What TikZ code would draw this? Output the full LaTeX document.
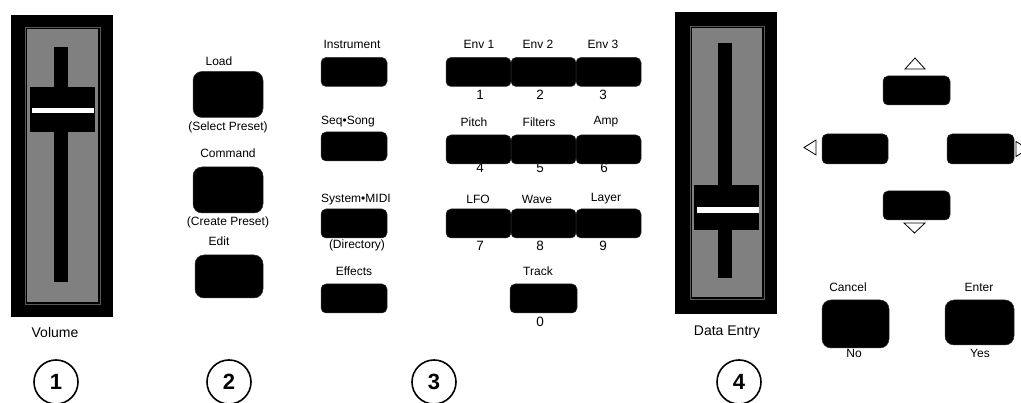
\documentclass[tikz,border=0pt]{standalone}
\usepackage{fontspec}
\setmainfont{Liberation Sans}
\newcommand{\panelfont}{\fontsize{12}{13}\selectfont}
\newcommand{\bigpanelfont}{\fontsize{14}{15}\selectfont}
\newcommand{\digitfont}{\fontsize{13.5}{14}\selectfont}

\begin{document}
\begin{tikzpicture}[x=1pt,y=-1pt]
        \tikzstyle{every node}=[font=\panelfont,inner sep=0pt]
        \tikzstyle{pad}=[rounded corners=5pt,fill=black,draw=black!80,line width=0.5pt,minimum width=66pt,minimum height=29pt]
        \tikzstyle{bigpad}=[pad,rounded corners=9pt,minimum width=70pt,minimum height=46pt]
        \tikzstyle{digit}=[font=\digitfont]
        \tikzstyle{section}=[circle,draw,line width=1.6pt,minimum size=44pt,font=\fontsize{22}{22}\selectfont\bfseries]
        \tikzstyle{arrowmark}=[draw,line width=0.8pt,line join=miter]
        \useasboundingbox (0,0) rectangle (1021,403);

        %%% Volume slider
        \fill[black] (11,15) rectangle (113,317);
        \fill[gray] (27,29) rectangle (98,302);
        \draw[black!65,line width=0.6pt] (25,27) rectangle (100,304);
        \fill[black] (54,47) rectangle (68,282);
        \fill[black] (30,87) rectangle (95,132);
        \fill[white] (32,108) rectangle (94,113);
        \node[font=\bigpanelfont] (volume) at (55,332) {Volume};

        %%% Preset buttons
        \node (loadtxt) at (219,61) {Load};
        \node (selecttxt) at (228,127) {(Select Preset)};
        \node (commandtxt) at (228,153) {Command};
        \node (createtxt) at (228,222) {(Create Preset)};
        \node (edittxt) at (219,241) {Edit};
        \node[bigpad] (load) at (228,94.5) {};
        \node[bigpad] (command) at (228,190) {};
        \node[bigpad,minimum width=68pt,minimum height=43pt] (edit) at (229,276.5) {};

        %%% Mode buttons
        \node (instrtxt) at (352,44) {Instrument};
        \node (seqtxt) at (348,122) {Seq\textbullet Song};
        \node (systxt) at (356,200) {System\textbullet MIDI};
        \node (dirtxt) at (357,245) {(Directory)};
        \node (effectstxt) at (354,271) {Effects};
        \node[pad] (instrument) at (354,72) {};
        \node[pad] (seqsong) at (354,146.5) {};
        \node[pad] (sysmidi) at (354,223.5) {};
        \node[pad] (effects) at (354,298.5) {};

        %%% Keypad
        \node (env1txt) at (479,44) {Env 1};
        \node (env2txt) at (538,44) {Env 2};
        \node (env3txt) at (603,44) {Env 3};
        \node[digit] (n1) at (480,95) {1};
        \node[digit] (n2) at (540,95) {2};
        \node[digit] (n3) at (603,95) {3};
        \node (pitchtxt) at (474,122) {Pitch};
        \node (filterstxt) at (539,122) {Filters};
        \node (amptxt) at (606,122) {Amp};
        \node[digit] (n4) at (480,168) {4};
        \node[digit] (n5) at (540,168) {5};
        \node[digit] (n6) at (604,168) {6};
        \node (lfotxt) at (478,199) {LFO};
        \node (wavetxt) at (537,199) {Wave};
        \node (layertxt) at (606,199) {Layer};
        \node[digit] (n7) at (480,246) {7};
        \node[digit] (n8) at (540,246) {8};
        \node[digit] (n9) at (603,246) {9};
        \node (tracktxt) at (538,271) {Track};
        \node[digit] (n0) at (540,322) {0};
        \node[pad,minimum width=65pt] (env1) at (478.5,72) {};
        \node[pad,minimum width=65pt] (env2) at (543.5,72) {};
        \node[pad,minimum width=65pt] (env3) at (608.5,72) {};
        \node[pad,minimum width=65pt] (pitch) at (478.5,149.5) {};
        \node[pad,minimum width=65pt] (filters) at (543.5,149.5) {};
        \node[pad,minimum width=65pt] (amp) at (608.5,149.5) {};
        \node[pad,minimum width=65pt] (lfo) at (478.5,223.5) {};
        \node[pad,minimum width=65pt] (wave) at (543.5,223.5) {};
        \node[pad,minimum width=65pt] (layer) at (608.5,223.5) {};
        \node[pad,minimum width=67pt] (track) at (543.5,298.5) {};

        %%% Data Entry slider
        \fill[black] (675,12) rectangle (777,314);
        \fill[gray] (692,28) rectangle (762,297);
        \draw[black!65,line width=0.6pt] (690,26) rectangle (764,299);
        \fill[black] (718,43) rectangle (732,278);
        \fill[black] (694,185) rectangle (759,230);
        \fill[white] (697,207) rectangle (759,213);
        \node[font=\bigpanelfont] (dataentry) at (727,332) {Data Entry};

        %%% Cursor buttons
        \node[pad,minimum width=67pt] (up) at (916.5,90.5) {};
        \node[pad,minimum width=66pt,minimum height=30pt] (left) at (855,149) {};
        \node[pad,minimum width=67pt,minimum height=30pt] (right) at (980.5,149) {};
        \node[pad,minimum width=67pt] (down) at (916.5,205.5) {};
        \draw[arrowmark] (905,69) -- (915,58) -- (925,69) -- cycle;
        \draw[arrowmark] (904,223) -- (914.5,233) -- (925,223) -- cycle;
        \draw[arrowmark] (816,140) -- (804,147.5) -- (816,155) -- cycle;
        \draw[arrowmark] (1016,141.5) -- (1028,149) -- (1016,156.5) -- cycle;

        \node (canceltxt) at (848,287) {Cancel};
        \node (notxt) at (854,353) {No};
        \node (entertxt) at (979,287) {Enter};
        \node (yestxt) at (980,353) {Yes};
        \node[bigpad,minimum width=67pt,minimum height=48pt] (cancel) at (855.5,324) {};
        \node[bigpad,minimum width=69pt,minimum height=45pt] (enter) at (979.5,322.5) {};

        %%% Section numbers
        \node[section] (sec1) at (56,382) {1};
        \node[section] (sec2) at (229,382) {2};
        \node[section] (sec3) at (434,382) {3};
        \node[section] (sec4) at (739,382) {4};
\end{tikzpicture}
\end{document}
